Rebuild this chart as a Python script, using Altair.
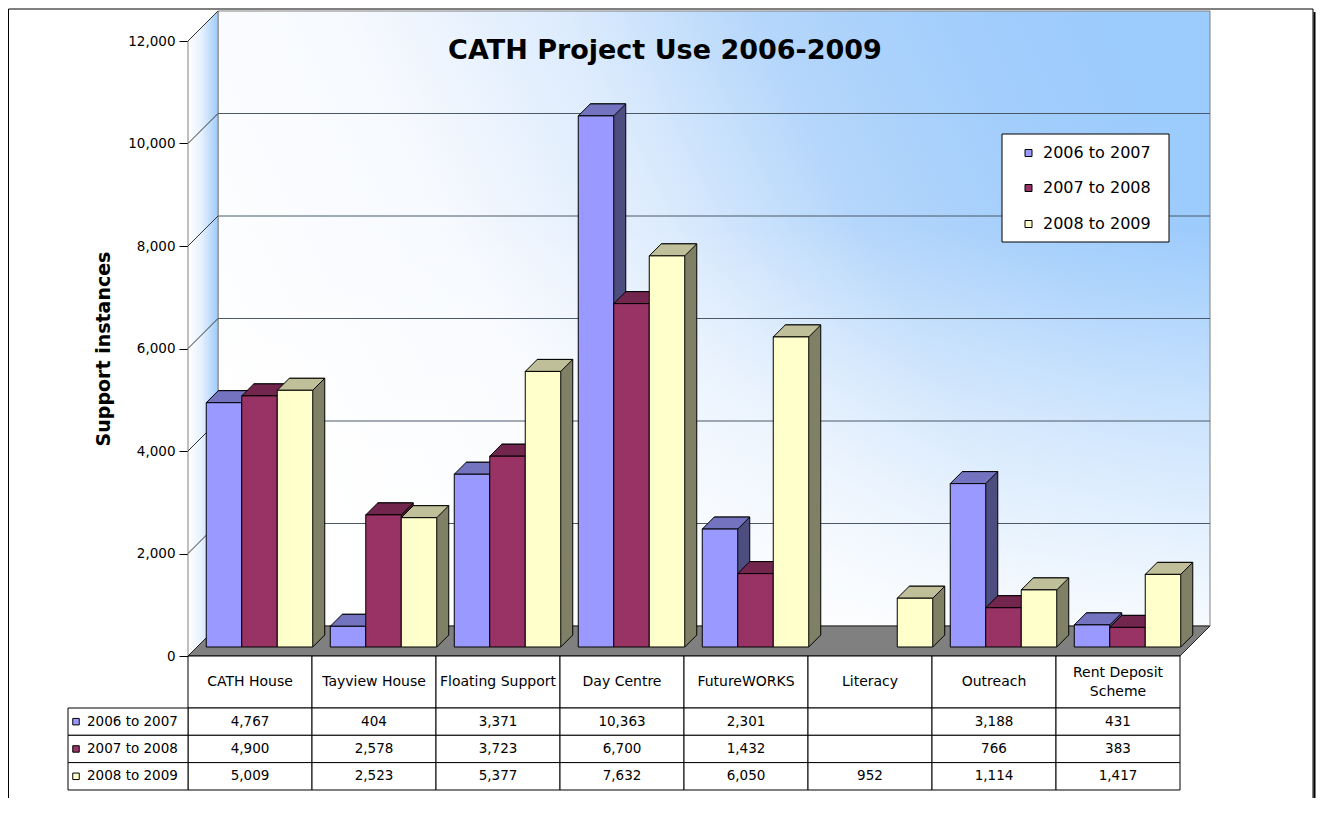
import altair as alt
import pandas as pd

# ---------------- data ----------------
categories = ["CATH House", "Tayview House", "Floating Support", "Day Centre",
              "FutureWORKS", "Literacy", "Outreach", "Rent Deposit Scheme"]
header_labels = ["CATH House", "Tayview House", "Floating Support", "Day Centre",
                 "FutureWORKS", "Literacy", "Outreach", "Rent Deposit\nScheme"]
series = ["2006 to 2007", "2007 to 2008", "2008 to 2009"]
values_0607 = [4767, 404, 3371, 10363, 2301, None, 3188, 431]
values_0708 = [4900, 2578, 3723, 6700, 1432, None, 766, 383]
values_0809 = [5009, 2523, 5377, 7632, 6050, 952, 1114, 1417]
y_ticks = [0, 2000, 4000, 6000, 8000, 10000, 12000]

front_colors = ["#9999ff", "#993366", "#ffffcc"]
top_colors = ["#7373bf", "#73264d", "#bfbf99"]
side_colors = ["#4d4d80", "#4d1a33", "#808066"]

FONT = "DejaVu Sans"

rows = []
for s, vals in zip(series, [values_0607, values_0708, values_0809]):
    for c, h, v in zip(categories, header_labels, vals):
        rows.append({"cat": c, "header": h, "series": s, "value": v, "zero": 0,
                     "label": "" if v is None else f"{v:,}"})
df = pd.DataFrame(rows)
cat_df = pd.DataFrame({"cat": categories, "header": header_labels})
tick_df = pd.DataFrame({"v": y_ticks})
one = pd.DataFrame({"k": [0]})

# ---------------- geometry (pixels) ----------------
W, H = 992, 615          # front plane of plot
D = 30                   # wall depth
SX, SY = 9.5, 9          # bars sit partly into the depth
d = 12                   # bar depth
step = W / len(categories)
group_w = 106.5
p_in = 1 - group_w / step
bw = group_w / 3
hw = bw / 2

yscale = alt.Scale(domain=[0, 12000], nice=False, zero=True)
YAX = alt.Axis(values=y_ticks, labelExpr="format(datum.value, ',')", tickSize=9, labelPadding=4,
               domainColor="black", tickColor="black", labelColor="black",
               labelFont=FONT, labelFontSize=13.5, grid=False,
               title="Support instances", titleFont=FONT, titleFontSize=19,
               titleFontWeight="bold", titleColor="black", titlePadding=14)


def xbar(shift):
    return alt.X("cat:N", sort=categories, axis=None,
                 scale=alt.Scale(domain=categories, range=[shift, W + shift],
                                 paddingInner=p_in, paddingOuter=p_in / 2))


xoff_band = alt.XOffset("series:N", sort=series,
                        scale=alt.Scale(type="band", domain=series, paddingInner=0, paddingOuter=0))
xoff_pt = alt.XOffset("series:N", sort=series,
                      scale=alt.Scale(type="point", domain=series, padding=0.5))
xtab = alt.X("cat:N", sort=categories, axis=None,
             scale=alt.Scale(domain=categories, range=[0, W], paddingInner=0, paddingOuter=0))

layers = []

# outer frame (kept inside the 1325 px page width)
BL, BR, BT, BB = -179.5, 1125, -32, 757
layers.append(alt.Chart(one).mark_rule(color="black", strokeWidth=1).encode(
    x=alt.value(BL), x2=alt.value(BR), y=alt.value(BT)))
layers.append(alt.Chart(one).mark_rule(color="black", strokeWidth=1).encode(
    x=alt.value(BL), y=alt.value(BT), y2=alt.value(BB)))
layers.append(alt.Chart(one).mark_rule(color="black", strokeWidth=1).encode(
    x=alt.value(BR), y=alt.value(BT), y2=alt.value(BB)))
layers.append(alt.Chart(one).mark_rule(color="black", strokeWidth=2).encode(
    x=alt.value(BR + 1.5), y=alt.value(BT + 3), y2=alt.value(BB)))

# back wall
wall_grad = alt.Gradient(gradient="linear", x1=0, y1=0.65, x2=1, y2=0.35, stops=[
    alt.GradientStop(color="#ffffff", offset=0),
    alt.GradientStop(color="#f6f9fe", offset=0.3),
    alt.GradientStop(color="#dcebfd", offset=0.5),
    alt.GradientStop(color="#b4d6fb", offset=0.68),
    alt.GradientStop(color="#a3cefc", offset=0.85),
    alt.GradientStop(color="#9ccbfd", offset=1)])
wall_fade = alt.Gradient(gradient="linear", x1=0, y1=0, x2=0, y2=1, stops=[
    alt.GradientStop(color="rgba(255,255,255,0)", offset=0),
    alt.GradientStop(color="rgba(255,255,255,0)", offset=0.35),
    alt.GradientStop(color="rgba(255,255,255,0.45)", offset=0.65),
    alt.GradientStop(color="rgba(255,255,255,0.9)", offset=1)])
layers.append(alt.Chart(one).mark_rect(fill=wall_grad, strokeWidth=0).encode(
    x=alt.value(D), x2=alt.value(W + D), y=alt.value(-D), y2=alt.value(H - D)))
layers.append(alt.Chart(one).mark_rect(fill=wall_fade, stroke="#808080", strokeWidth=1).encode(
    x=alt.value(D), x2=alt.value(W + D), y=alt.value(-D), y2=alt.value(H - D)))

# side wall
side_grad = alt.Gradient(gradient="linear", x1=0, y1=0, x2=1, y2=0, stops=[
    alt.GradientStop(color="#ffffff", offset=0),
    alt.GradientStop(color="#e6f1fe", offset=0.45),
    alt.GradientStop(color="#9fcbfa", offset=1)])
side_path = f"M0,0 L0,{-H} L{D},{-H - D} L{D},{-D} Z"
layers.append(alt.Chart(one).mark_point(shape=side_path, size=4, filled=True, fill=side_grad,
                                        stroke="#808080", strokeWidth=1, opacity=1).encode(
    x=alt.value(0), y=alt.value(H)))

# diagonals on side wall + y axis
layers.append(alt.Chart(tick_df).mark_rule(color="#333333", strokeWidth=1, y2Offset=-D).encode(
    x=alt.value(0), x2=alt.value(D),
    y=alt.Y("v:Q", scale=yscale, axis=YAX),
    y2=alt.Y2("v")))

# gridlines on back wall
layers.append(alt.Chart(tick_df[(tick_df.v > 0) & (tick_df.v < 12000)]).mark_rule(
    color="#4b5868", strokeWidth=1, yOffset=-D).encode(
    x=alt.value(D), x2=alt.value(W + D), y=alt.Y("v:Q", scale=yscale, axis=YAX)))

# floor
floor_path = f"M0,0 L{D},{-D} L{W + D},{-D} L{W},0 Z"
layers.append(alt.Chart(one).mark_point(shape=floor_path, size=4, filled=True, fill="#808080",
                                        stroke="#222222", strokeWidth=1, opacity=1).encode(
    x=alt.value(0), y=alt.value(H)))

# 3D bars
top_path = f"M{-hw},0 L{-hw + d},{-d} L{hw + d},{-d} L{hw},0 Z"
patch_path = f"M{hw},0 L{hw},{-d - 1} L{hw + d - 0.5},{-d - 1} L{hw + d - 0.5},{-d + 0.5} Z"
diag_path = f"M{hw},0 L{hw + d},{-d}"
yv = alt.Y("value:Q", scale=yscale, axis=YAX)
yz = alt.Y("zero:Q", scale=yscale, axis=YAX)
for i, s in enumerate(series):
    sd = df[(df.series == s) & df.value.notna()]
    base = alt.Chart(sd)
    layers.append(base.mark_bar(fill=side_colors[i], stroke="black", strokeWidth=1,
                                yOffset=-SY - d, y2Offset=-SY - d).encode(
        x=xbar(SX + d), xOffset=xoff_band, y=yv))
    layers.append(base.mark_point(shape=patch_path, size=4, filled=True, fill=side_colors[i],
                                  strokeWidth=0, opacity=1, yOffset=-SY).encode(
        x=xbar(SX), xOffset=xoff_pt, y=yz))
    layers.append(base.mark_point(shape=diag_path, size=4, filled=False, stroke="black",
                                  strokeWidth=1, opacity=1, yOffset=-SY).encode(
        x=xbar(SX), xOffset=xoff_pt, y=yz))
    layers.append(base.mark_point(shape=top_path, size=4, filled=True, fill=top_colors[i],
                                  stroke="black", strokeWidth=1, opacity=1, yOffset=-SY).encode(
        x=xbar(SX), xOffset=xoff_pt, y=yv))
    layers.append(base.mark_bar(fill=front_colors[i], stroke="black", strokeWidth=1,
                                yOffset=-SY, y2Offset=-SY).encode(
        x=xbar(SX), xOffset=xoff_band, y=yv))

# title
layers.append(alt.Chart(one).mark_text(text="CATH Project Use 2006-2009", font=FONT, fontSize=27,
                                       fontWeight="bold", color="black", baseline="middle").encode(
    x=alt.value(477), y=alt.value(10)))

# legend (inside plot)
LX1, LX2, LY1, LY2 = 814, 981, 93, 201
leg_y = [112, 147, 183]
layers.append(alt.Chart(one).mark_rect(fill="white", stroke="black", strokeWidth=1).encode(
    x=alt.value(LX1), x2=alt.value(LX2), y=alt.value(LY1), y2=alt.value(LY2)))
for i, s in enumerate(series):
    sd = pd.DataFrame({"series": [s]})
    layers.append(alt.Chart(sd).mark_point(shape="square", size=49, filled=True, fill=front_colors[i],
                                           stroke="black", strokeWidth=1, opacity=1).encode(
        x=alt.value(840.5), y=alt.value(leg_y[i])))
    layers.append(alt.Chart(sd).mark_text(font=FONT, fontSize=16, align="left", baseline="middle",
                                          color="black").encode(
        x=alt.value(855), y=alt.value(leg_y[i]), text="series:N"))

# data table
HDR_B = H + 52
row_edges = [HDR_B, HDR_B + 27.3, HDR_B + 54.6, H + 134]
TFS = 13.5
layers.append(alt.Chart(cat_df).mark_rect(fill="white", stroke="black", strokeWidth=1).encode(
    x=xtab, y=alt.value(H), y2=alt.value(HDR_B)))
one_line = cat_df[~cat_df.header.str.contains("\n")]
two_line = cat_df[cat_df.header.str.contains("\n")]
layers.append(alt.Chart(one_line).mark_text(font=FONT, fontSize=14, color="black",
                                            baseline="middle").encode(
    x=xtab, y=alt.value(H + 26), text="header:N"))
layers.append(alt.Chart(two_line).mark_text(font=FONT, fontSize=14, lineBreak="\n", color="black",
                                            baseline="middle", lineHeight=19).encode(
    x=xtab, y=alt.value(H + 17), text="header:N"))
for i, s in enumerate(series):
    sd = df[df.series == s]
    top, bot = row_edges[i], row_edges[i + 1]
    mid = (top + bot) / 2
    layers.append(alt.Chart(sd).mark_rect(fill="white", stroke="black", strokeWidth=1).encode(
        x=xtab, y=alt.value(top), y2=alt.value(bot)))
    layers.append(alt.Chart(sd).mark_text(font=FONT, fontSize=TFS, color="black",
                                          baseline="middle").encode(
        x=xtab, y=alt.value(mid), text="label:N"))
    key = pd.DataFrame({"series": [s]})
    layers.append(alt.Chart(key).mark_rect(fill="white", stroke="black", strokeWidth=1).encode(
        x=alt.value(-120), x2=alt.value(0), y=alt.value(top), y2=alt.value(bot)))
    layers.append(alt.Chart(key).mark_point(shape="square", size=42, filled=True, fill=front_colors[i],
                                            stroke="black", strokeWidth=1, opacity=1).encode(
        x=alt.value(-112), y=alt.value(mid)))
    layers.append(alt.Chart(key).mark_text(font=FONT, fontSize=TFS, align="left", baseline="middle",
                                           color="black").encode(
        x=alt.value(-101), y=alt.value(mid), text="series:N"))

chart = alt.layer(*layers).resolve_scale(x="independent", xOffset="independent").properties(
    width=W, height=H, padding=0, background="white"
).configure_view(strokeWidth=0)

chart.save("out.html", embed_options={"renderer": "svg", "actions": False})
